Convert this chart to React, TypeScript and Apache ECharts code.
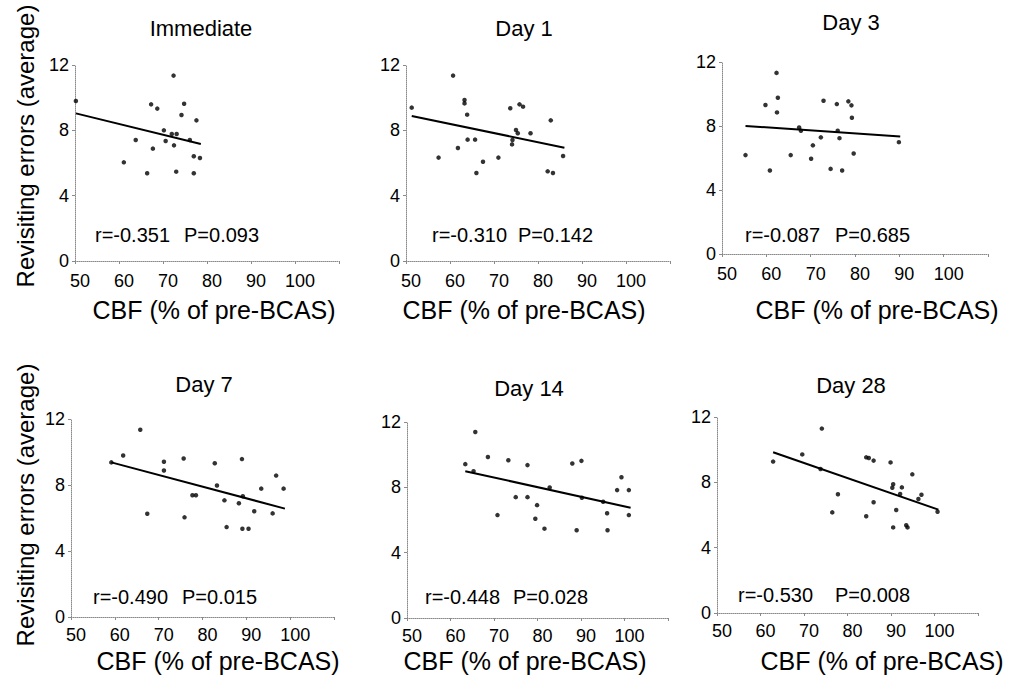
import React, { useEffect, useRef } from "react";
import * as echarts from "echarts";

// ---------- data ----------
const panelTitles = ["Immediate", "Day 1", "Day 3", "Day 7", "Day 14", "Day 28"];
const rValues = ["r=-0.351", "r=-0.310", "r=-0.087", "r=-0.490", "r=-0.448", "r=-0.530"];
const pValues = ["P=0.093", "P=0.142", "P=0.685", "P=0.015", "P=0.028", "P=0.008"];
const xAxisTitle = "CBF (% of pre-BCAS)";
const yAxisTitle = "Revisiting errors (average)";

const immX = [50.2, 61.1, 63.8, 66.4, 67.3, 67.7, 68.7, 70.2, 70.6, 72.4, 72.0, 73.1, 72.5, 73.0, 74.2, 74.8, 76.1, 77.0, 77.0, 77.6, 78.4];
const immY = [9.8, 6.04, 7.41, 5.37, 9.59, 6.88, 9.33, 8.0, 7.35, 11.35, 7.78, 7.78, 7.08, 5.47, 8.94, 9.63, 7.41, 6.41, 5.37, 8.61, 6.31];
const immFitX = [50.2, 78.6];
const immFitY = [9.04, 7.16];

const d1X = [51.3, 57.4, 60.7, 61.8, 63.3, 63.3, 63.9, 64.0, 65.7, 66.0, 67.5, 71.0, 73.7, 74.2, 74.1, 75.0, 75.4, 75.8, 76.6, 78.3, 82.2, 82.9, 83.4, 85.7];
const d1Y = [9.39, 6.33, 11.35, 6.92, 9.86, 9.65, 8.96, 7.43, 7.43, 5.39, 6.08, 6.33, 9.35, 7.41, 7.14, 8.02, 7.82, 9.59, 9.45, 7.82, 5.49, 8.61, 5.39, 6.43];
const d1FitX = [51.3, 86.0];
const d1FitY = [8.88, 6.94];

const d3X = [55.3, 59.8, 60.8, 62.3, 62.6, 62.4, 65.5, 67.4, 67.8, 70.1, 70.5, 72.3, 72.9, 74.5, 75.9, 76.1, 76.5, 77.1, 78.5, 79.2, 79.3, 79.7, 89.9];
const d3Y = [6.18, 9.31, 5.22, 11.32, 9.77, 8.85, 6.18, 7.91, 7.7, 5.95, 6.79, 7.29, 9.58, 5.32, 9.37, 7.7, 7.24, 5.22, 9.54, 9.29, 8.52, 6.28, 6.99];
const d3FitX = [55.3, 90.2];
const d3FitY = [8.0, 7.35];

const d7X = [59.2, 61.9, 65.8, 67.4, 71.2, 71.2, 75.7, 75.9, 77.7, 78.5, 82.8, 83.3, 85.0, 85.5, 88.3, 89.0, 89.2, 89.1, 90.5, 91.8, 93.4, 96.0, 96.8, 98.5];
const d7Y = [9.37, 9.79, 11.35, 6.26, 9.41, 8.88, 9.61, 6.04, 7.38, 7.38, 9.32, 7.97, 7.07, 5.45, 6.89, 9.57, 7.32, 5.35, 5.35, 6.41, 7.78, 6.28, 8.57, 7.78];
const d7FitX = [59.2, 98.8];
const d7FitY = [9.37, 6.57];

const d14X = [63.4, 65.3, 65.7, 68.6, 70.8, 73.3, 75.0, 77.7, 77.7, 79.9, 79.5, 81.6, 82.8, 88.0, 89.0, 90.1, 90.2, 95.1, 96.0, 96.1, 98.3, 99.3, 101.0, 101.0];
const d14Y = [9.42, 8.99, 11.39, 9.86, 6.3, 9.66, 7.4, 9.36, 7.4, 6.91, 6.08, 5.47, 7.99, 9.46, 5.37, 9.62, 7.36, 7.12, 6.41, 5.37, 7.83, 8.62, 7.83, 6.3];
const d14FitX = [63.4, 101.4];
const d14FitY = [8.99, 6.75];

const d28X = [62.9, 69.6, 74.1, 73.8, 76.5, 77.8, 84.3, 84.3, 84.9, 86.0, 86.0, 89.9, 90.5, 90.3, 90.5, 91.2, 92.1, 92.5, 93.5, 93.8, 94.9, 96.3, 97.0, 100.7];
const d28Y = [9.27, 9.71, 11.29, 8.82, 6.16, 7.27, 5.92, 9.53, 9.49, 9.33, 6.78, 9.22, 7.88, 7.67, 5.24, 6.31, 7.29, 7.69, 5.37, 5.24, 8.49, 6.98, 7.24, 6.2];
const d28FitX = [62.9, 100.9];
const d28FitY = [9.84, 6.33];

const xMin = 50;
const xMax = 110;
const xInterval = 10;
const xLabelMax = 100;
const yMin = 0;
const yMax = 12;
const yInterval = 4;

// ---------- layout ----------
const FONT = "'Liberation Sans', Arial, Helvetica, sans-serif";
const grids = [
  { left: 75, top: 65, width: 264, height: 196 },
  { left: 406, top: 65, width: 264, height: 196 },
  { left: 722, top: 62, width: 266, height: 192 },
  { left: 71, top: 419, width: 263, height: 198 },
  { left: 407, top: 422, width: 261, height: 196 },
  { left: 717, top: 417, width: 261, height: 196 },
];
const titlePos = [
  [201, 28], [524, 28], [851, 22],
  [204, 384], [529, 388], [851, 385],
];
const xNamePos = [
  [214, 310], [524, 310], [877, 310],
  [218, 661], [525, 661], [882, 661],
];
const yNamePos = [[25, 146], [25, 505]];
const rPos = [[95, 235], [432, 235], [745, 235], [93, 597], [425, 597], [738, 595]];
const pPos = [[184, 235], [518, 235], [835, 235], [182, 597], [513, 597], [835, 595]];

const pts = (xs: number[], ys: number[]) => xs.map((x, i) => [x, ys[i]]);

const panels = [
  { x: immX, y: immY, fx: immFitX, fy: immFitY },
  { x: d1X, y: d1Y, fx: d1FitX, fy: d1FitY },
  { x: d3X, y: d3Y, fx: d3FitX, fy: d3FitY },
  { x: d7X, y: d7Y, fx: d7FitX, fy: d7FitY },
  { x: d14X, y: d14Y, fx: d14FitX, fy: d14FitY },
  { x: d28X, y: d28Y, fx: d28FitX, fy: d28FitY },
];

const axisGrey = "#8a8a8a";

export default function App() {
  const ref = useRef<HTMLDivElement>(null);
  useEffect(() => {
    if (!ref.current) return;
    const chart = echarts.init(ref.current, undefined, { renderer: "svg" });

    const xAxes = grids.map((_, i) => ({
      type: "value",
      gridIndex: i,
      min: xMin,
      max: xMax,
      interval: xInterval,
      axisLine: { show: true, lineStyle: { color: axisGrey, type: "dotted", width: 1 } },
      axisTick: { show: true, length: 3, lineStyle: { color: axisGrey } },
      splitLine: { show: false },
      axisLabel: {
        color: "#000",
        fontSize: 18,
        fontFamily: FONT,
        margin: i < 3 ? 11 : 9,
        padding: [0, 0, 0, 10],
        formatter: (v: number) => (v <= xLabelMax ? String(v) : ""),
      },
    }));
    const yAxes = grids.map((_, i) => ({
      type: "value",
      gridIndex: i,
      min: yMin,
      max: yMax,
      interval: yInterval,
      axisLine: { show: true, lineStyle: { color: axisGrey, type: "dotted", width: 1 } },
      axisTick: { show: true, length: 3, lineStyle: { color: axisGrey } },
      splitLine: { show: false },
      axisLabel: { color: "#000", fontSize: 18, fontFamily: FONT, margin: 6 },
    }));

    const series: any[] = [];
    panels.forEach((p, i) => {
      series.push({
        type: "scatter",
        xAxisIndex: i,
        yAxisIndex: i,
        data: pts(p.x, p.y),
        symbol: "circle",
        symbolSize: 4.5,
        itemStyle: { color: "#000" },
        silent: true,
      });
      series.push({
        type: "line",
        xAxisIndex: i,
        yAxisIndex: i,
        data: pts(p.fx, p.fy),
        showSymbol: false,
        symbol: "none",
        lineStyle: { color: "#000", width: 2 },
        silent: true,
      });
    });

    const graphic: any[] = [];
    panelTitles.forEach((t, i) => {
      graphic.push({
        type: "text",
        x: titlePos[i][0],
        y: titlePos[i][1],
        style: { text: t, fontSize: 22, fontFamily: FONT, fill: "#000", align: "center", verticalAlign: "middle" },
      });
      graphic.push({
        type: "text",
        x: xNamePos[i][0],
        y: xNamePos[i][1],
        style: { text: xAxisTitle, fontSize: 25, fontFamily: FONT, fill: "#000", align: "center", verticalAlign: "middle" },
      });
      graphic.push({
        type: "text",
        x: rPos[i][0],
        y: rPos[i][1],
        style: { text: rValues[i], fontSize: 20, fontFamily: FONT, fill: "#000", align: "left", verticalAlign: "middle" },
      });
      graphic.push({
        type: "text",
        x: pPos[i][0],
        y: pPos[i][1],
        style: { text: pValues[i], fontSize: 20, fontFamily: FONT, fill: "#000", align: "left", verticalAlign: "middle" },
      });
    });
    yNamePos.forEach((pos) => {
      graphic.push({
        type: "text",
        x: pos[0],
        y: pos[1],
        rotation: Math.PI / 2,
        style: { text: yAxisTitle, fontSize: 24, fontFamily: FONT, fill: "#000", align: "center", verticalAlign: "middle" },
      });
    });

    chart.setOption({
      animation: false,
      backgroundColor: "#fff",
      grid: grids.map((g) => ({ ...g, containLabel: false })),
      xAxis: xAxes,
      yAxis: yAxes,
      series,
      graphic,
    });
    return () => chart.dispose();
  }, []);

  return (
    <div
      ref={ref}
      style={{ position: "fixed", left: 0, top: 0, width: 1019, height: 692, background: "#fff" }}
    />
  );
}
